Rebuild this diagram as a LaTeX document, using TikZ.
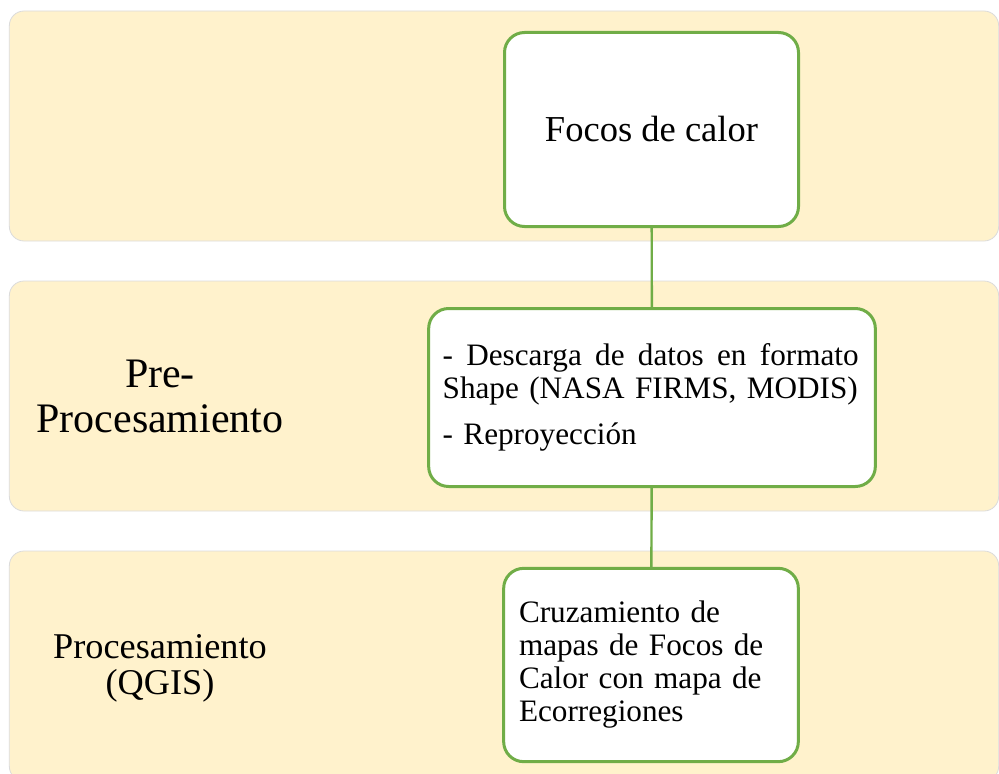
\documentclass[tikz,border=0pt]{standalone}
\usepackage{fontspec}
\setmainfont{Liberation Serif}

\definecolor{verde}{HTML}{70AD47}
\definecolor{crema}{HTML}{FFF2CC}

\tikzset{
  franja/.style={fill=crema, draw=black!14, line width=0.6pt, rounded corners=11pt,
    minimum width=742pt, minimum height=172.5pt},
  paso/.style={fill=white, draw=verde, line width=2.25pt, rounded corners=15pt},
  etapa/.style={align=center},
  linea/.style={draw=verde, line width=1.8pt}
}

\begin{document}
\begin{tikzpicture}[x=0.75pt, y=-0.75pt]
  \useasboundingbox (0, 0) rectangle (999, 774);
  \clip (0, 0) rectangle (999, 774);

  \node [franja] (f1) at (504, 126) {};
  \node [franja] (f2) at (504, 396) {};
  \node [franja] (f3) at (504, 666) {};

  \node [etapa, font=\fontsize{31.5}{33.75}\selectfont] (pre) at (160, 396.5) {Pre-\\Procesamiento};
  \node [etapa, font=\fontsize{27.2}{27}\selectfont] (pro) at (160, 668) {Procesamiento\\(QGIS)};

  \node [paso, minimum width=220.5pt, minimum height=145.5pt,
    font=\fontsize{27.4}{30}\selectfont] (focos) at (651.5, 129.5) {Focos de calor};

  \node [paso, minimum width=335pt, minimum height=133.5pt, text width=314pt, align=left,
    font=\fontsize{23.4}{24.75}\selectfont] (descarga) at (652, 397.5)
    {\hbox to 312pt{- \hfill Descarga \hfill de \hfill datos \hfill en \hfill formato}\\\mbox{Shape (NASA FIRMS, MODIS)}\\[9.75pt]- Reproyección};
  \draw [linea] (focos) to (descarga);

  \node [paso, minimum width=221pt, minimum height=145pt, text width=198pt, align=left,
    font=\fontsize{23.4}{24.75}\selectfont] (cruce) at (651, 665)
    {Cruzamiento de\\mapas de Focos de\\Calor con mapa de\\Ecorregiones};
  \draw [linea] (descarga) to (cruce);
\end{tikzpicture}
\end{document}
